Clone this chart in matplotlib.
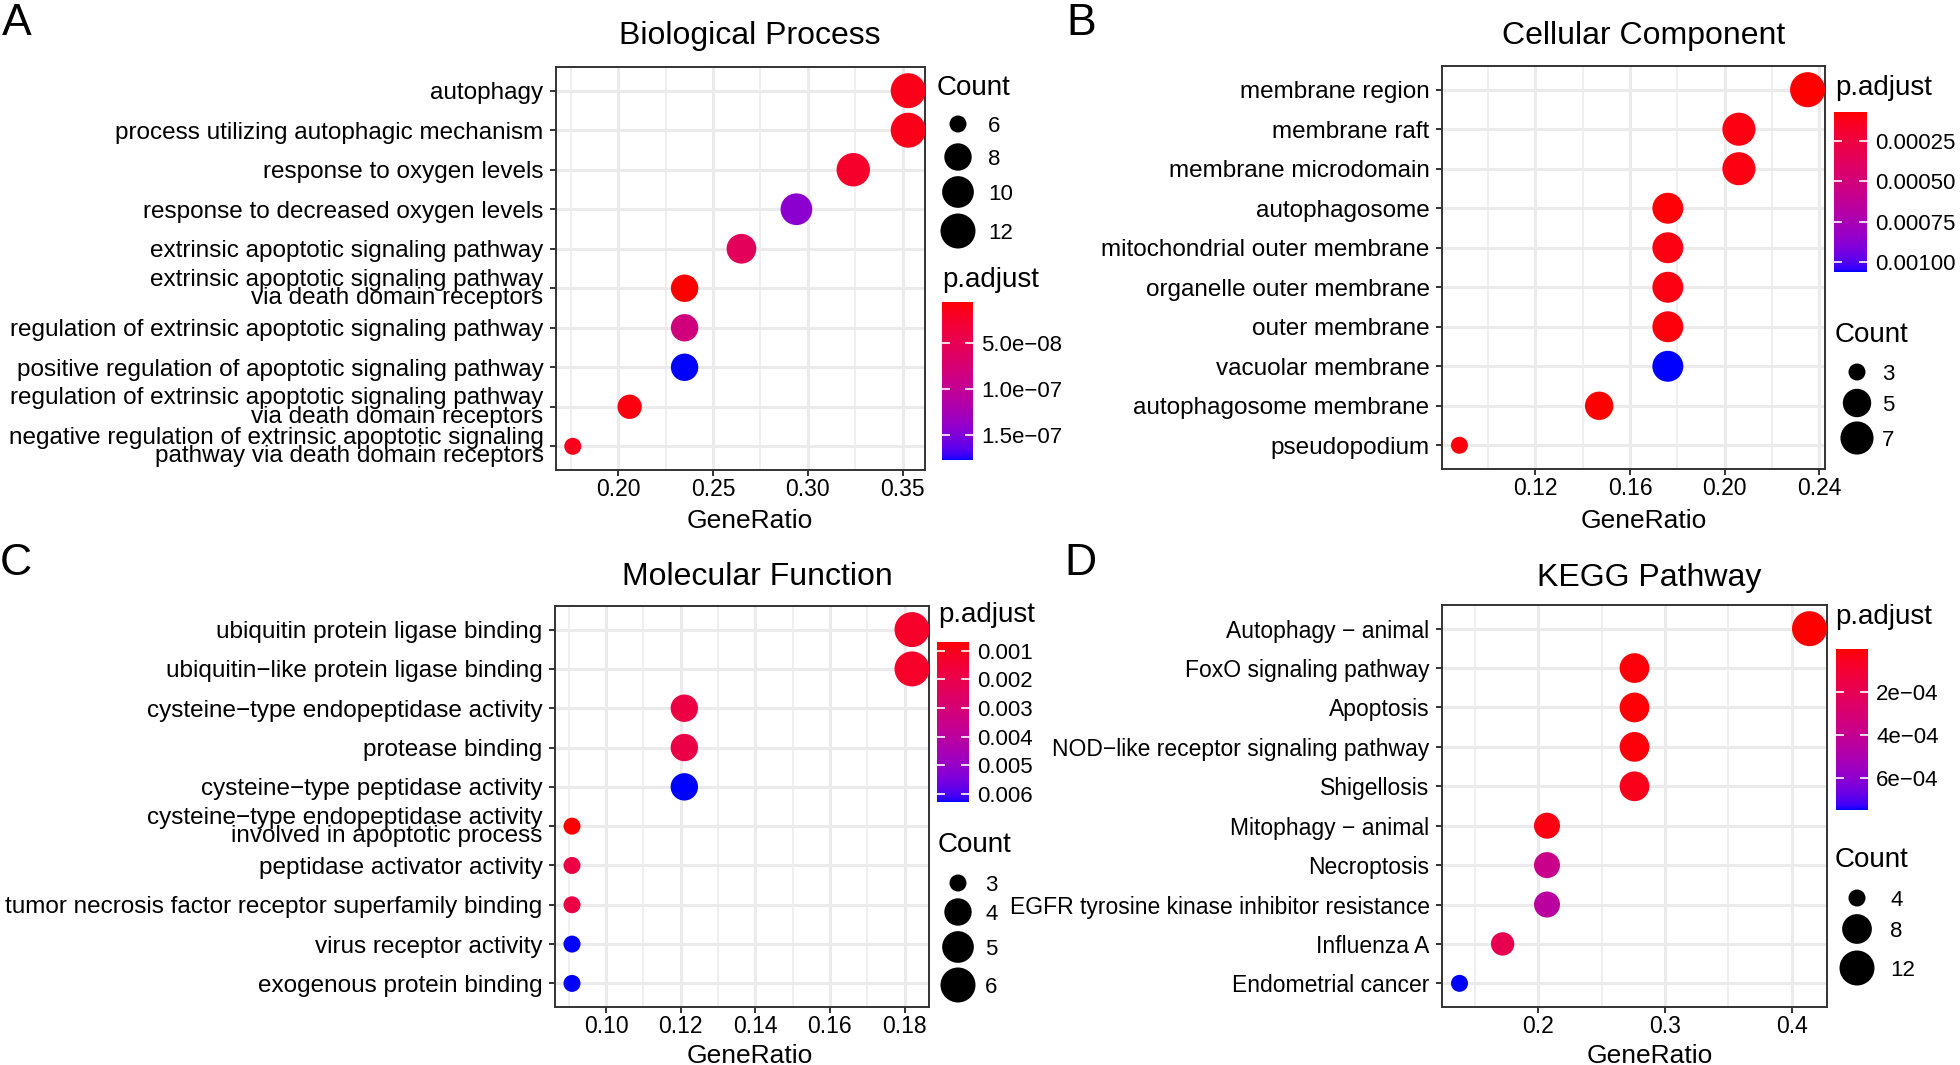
import numpy as np
import matplotlib
matplotlib.use("Agg")
import matplotlib.pyplot as plt
from matplotlib.colors import ListedColormap, Normalize
from matplotlib.cm import ScalarMappable
from matplotlib.ticker import MultipleLocator, AutoMinorLocator, FormatStrFormatter

plt.rcParams["font.family"] = ["Liberation Sans", "DejaVu Sans"]

# ---- data (top row of each list = top of the plot) ----
bp_terms = ["autophagy", "process utilizing autophagic mechanism", "response to oxygen levels",
            "response to decreased oxygen levels", "extrinsic apoptotic signaling pathway",
            "extrinsic apoptotic signaling pathway\nvia death domain receptors",
            "regulation of extrinsic apoptotic signaling pathway",
            "positive regulation of apoptotic signaling pathway",
            "regulation of extrinsic apoptotic signaling pathway\nvia death domain receptors",
            "negative regulation of extrinsic apoptotic signaling\npathway via death domain receptors"]
bp_ratio = [0.353, 0.353, 0.324, 0.294, 0.265, 0.235, 0.235, 0.235, 0.206, 0.176]
bp_count = [12, 12, 11, 10, 9, 8, 8, 8, 7, 6]
bp_padj = [1.4e-8, 1.4e-8, 2.3e-8, 1.43e-7, 5.7e-8, 5.4e-9, 8.3e-8, 1.77e-7, 1.0e-8, 1.6e-8]

cc_terms = ["membrane region", "membrane raft", "membrane microdomain", "autophagosome",
            "mitochondrial outer membrane", "organelle outer membrane", "outer membrane",
            "vacuolar membrane", "autophagosome membrane", "pseudopodium"]
cc_ratio = [0.235, 0.206, 0.206, 0.176, 0.176, 0.176, 0.176, 0.176, 0.147, 0.088]
cc_count = [8, 7, 7, 6, 6, 6, 6, 6, 5, 3]
cc_padj = [7e-5, 1.0e-4, 1.0e-4, 8e-5, 1.0e-4, 1.0e-4, 9e-5, 1.06e-3, 7.2e-5, 9e-5]

mf_terms = ["ubiquitin protein ligase binding", "ubiquitin\u2212like protein ligase binding",
            "cysteine\u2212type endopeptidase activity", "protease binding",
            "cysteine\u2212type peptidase activity",
            "cysteine\u2212type endopeptidase activity\ninvolved in apoptotic process",
            "peptidase activator activity", "tumor necrosis factor receptor superfamily binding",
            "virus receptor activity", "exogenous protein binding"]
mf_ratio = [0.182, 0.182, 0.121, 0.121, 0.121, 0.0909, 0.0909, 0.0909, 0.0909, 0.0909]
mf_count = [6, 6, 4, 4, 4, 3, 3, 3, 3, 3]
mf_padj = [1.25e-3, 1.25e-3, 1.8e-3, 1.9e-3, 6.28e-3, 6.9e-4, 1.8e-3, 1.8e-3, 6.28e-3, 6.28e-3]

kegg_terms = ["Autophagy \u2212 animal", "FoxO signaling pathway", "Apoptosis",
              "NOD\u2212like receptor signaling pathway", "Shigellosis", "Mitophagy \u2212 animal",
              "Necroptosis", "EGFR tyrosine kinase inhibitor resistance", "Influenza A",
              "Endometrial cancer"]
kegg_ratio = [0.414, 0.276, 0.276, 0.276, 0.276, 0.207, 0.207, 0.207, 0.172, 0.138]
kegg_count = [12, 8, 8, 8, 8, 6, 6, 6, 5, 4]
kegg_padj = [1e-6, 1.5e-5, 8e-6, 1.5e-5, 4e-5, 2.5e-5, 3.8e-4, 4.5e-4, 1.9e-4, 7.5e-4]

bp_cticks = [5e-8, 1e-7, 1.5e-7]
bp_clabels = ["5.0e\u221208", "1.0e\u221207", "1.5e\u221207"]
cc_cticks = [0.00025, 0.0005, 0.00075, 0.001]
cc_clabels = ["0.00025", "0.00050", "0.00075", "0.00100"]
mf_cticks = [0.001, 0.002, 0.003, 0.004, 0.005, 0.006]
mf_clabels = ["0.001", "0.002", "0.003", "0.004", "0.005", "0.006"]
kegg_cticks = [2e-4, 4e-4, 6e-4]
kegg_clabels = ["2e\u221204", "4e\u221204", "6e\u221204"]

bp_sizes = [6, 8, 10, 12]
cc_sizes = [3, 5, 7]
mf_sizes = [3, 4, 5, 6]
kegg_sizes = [4, 8, 12]


# ---- red -> blue gradient interpolated in CIELAB (like ggplot) ----
def to_lab(rgb):
    c = np.asarray(rgb, float)
    c = np.where(c <= 0.04045, c / 12.92, ((c + 0.055) / 1.055) ** 2.4)
    M = np.array([[0.4124, 0.3576, 0.1805], [0.2126, 0.7152, 0.0722], [0.0193, 0.1192, 0.9505]])
    xyz = M @ c / np.array([0.95047, 1.0, 1.08883])
    f = np.where(xyz > 0.008856, np.cbrt(xyz), 7.787 * xyz + 16 / 116)
    return np.array([116 * f[1] - 16, 500 * (f[0] - f[1]), 200 * (f[1] - f[2])])


def from_lab(lab):
    L, a, b = lab
    fy = (L + 16) / 116
    f = np.array([fy + a / 500, fy, fy - b / 200])
    xyz = np.where(f ** 3 > 0.008856, f ** 3, (f - 16 / 116) / 7.787) * np.array([0.95047, 1.0, 1.08883])
    Mi = np.array([[3.2406, -1.5372, -0.4986], [-0.9689, 1.8758, 0.0415], [0.0557, -0.2040, 1.0570]])
    c = Mi @ xyz
    c = np.where(c <= 0.0031308, 12.92 * c, 1.055 * np.clip(c, 0, None) ** (1 / 2.4) - 0.055)
    return np.clip(c, 0, 1)


lab_r, lab_b = to_lab([1, 0, 0]), to_lab([0, 0, 1])
cmap = ListedColormap([from_lab(lab_r + (lab_b - lab_r) * t) for t in np.linspace(0, 1, 256)])

W, H = 1960, 1065
fig = plt.figure(figsize=(19.6, 10.65), dpi=100)

ov = fig.add_axes([0, 0, 1, 1])
ov.set_xlim(0, W)
ov.set_ylim(H, 0)
ov.axis("off")


def box(l, t, r, b):
    return [l / W, 1 - b / H, (r - l) / W, (b - t) / H]


def dia(c, cmin, cmax):
    return 17 + 18 * np.sqrt((np.asarray(c, float) - cmin) / (cmax - cmin))


def size_legend(xt, yt, xd, ys, xl, vals, cmin, cmax):
    ov.text(xt, yt, "Count", fontsize=20, ha="left", va="center")
    ov.scatter([xd] * len(vals), ys, s=(dia(vals, cmin, cmax) * 0.72) ** 2, c="black", lw=0)
    for y, v in zip(ys, vals):
        ov.text(xl, y, str(v), fontsize=16, ha="left", va="center_baseline")


def color_legend(xt, yt, cbox, ticks, labels, vmin, vmax):
    ov.text(xt, yt, "p.adjust", fontsize=20, ha="left", va="center")
    cax = fig.add_axes(box(*cbox))
    cb = fig.colorbar(ScalarMappable(Normalize(vmin, vmax), cmap), cax=cax)
    cb.outline.set_visible(False)
    cax.invert_yaxis()
    cb.set_ticks(ticks)
    cb.set_ticklabels(labels)
    cax.tick_params(direction="in", color="white", length=6, width=1.2, left=True, right=True,
                    labelsize=16, pad=6)


def panel(letter, letter_xy, title, title_xy, xlab_xy, axbox, terms, ratio, count, padj,
          step, fmt, ysize=17.5):
    ax = fig.add_axes(box(*axbox))
    cmin, cmax = min(count), max(count)
    ax.scatter(ratio[::-1], terms[::-1], s=(dia(count[::-1], cmin, cmax) * 0.72) ** 2,
               c=padj[::-1], cmap=cmap, norm=Normalize(min(padj), max(padj)), lw=0, zorder=3)
    ax.set_ylim(-0.6, len(terms) - 0.4)
    ax.xaxis.set_major_locator(MultipleLocator(step))
    ax.xaxis.set_minor_locator(AutoMinorLocator(2))
    ax.xaxis.set_major_formatter(FormatStrFormatter(fmt))
    ax.grid(True, which="major", color="#EBEBEB", lw=2.2)
    ax.grid(True, which="minor", axis="x", color="#EBEBEB", lw=1.1)
    ax.set_axisbelow(True)
    ax.tick_params(which="minor", length=0)
    ax.tick_params(axis="both", which="major", length=4, width=1.4, color="#333333")
    ax.tick_params(axis="y", labelsize=ysize, pad=5)
    ax.tick_params(axis="x", labelsize=16.5, pad=1.5)
    for lbl in ax.get_yticklabels():
        lbl.set_linespacing(0.8)
    for sp in ax.spines.values():
        sp.set_color("#333333")
        sp.set_linewidth(1.4)
    ov.text(letter_xy[0], letter_xy[1], letter, fontsize=32, ha="left", va="baseline")
    ov.text(title_xy[0], title_xy[1], title, fontsize=23, ha="center", va="center")
    ov.text(xlab_xy[0], xlab_xy[1], "GeneRatio", fontsize=19, ha="center", va="baseline")
    return ax


panel("A", (2, 35), "Biological Process", (750, 36), (750, 528), (556, 67, 925, 470),
      bp_terms, bp_ratio, bp_count, bp_padj, 0.05, "%.2f")
size_legend(937, 88, 958, [124, 157, 192, 231], 988, bp_sizes, min(bp_count), max(bp_count))
color_legend(942, 280, (942, 302, 973, 460), bp_cticks, bp_clabels, min(bp_padj), max(bp_padj))

panel("B", (1066, 35), "Cellular Component", (1644, 36), (1644, 528), (1442, 66, 1825, 469),
      cc_terms, cc_ratio, cc_count, cc_padj, 0.04, "%.2f")
color_legend(1835, 88, (1834, 112, 1867, 272), cc_cticks, cc_clabels, min(cc_padj), max(cc_padj))
size_legend(1835, 335, 1857, [372, 403, 438], 1882, cc_sizes, min(cc_count), max(cc_count))

panel("C", (0, 575), "Molecular Function", (757, 577), (750, 1063), (555, 606, 929, 1007),
      mf_terms, mf_ratio, mf_count, mf_padj, 0.02, "%.2f")
color_legend(938, 615, (937, 642, 969, 802), mf_cticks, mf_clabels, min(mf_padj), max(mf_padj))
size_legend(938, 845, 958, [883, 912, 947, 985], 985, mf_sizes, min(mf_count), max(mf_count))

panel("D", (1064, 575), "KEGG Pathway", (1649, 578), (1650, 1063), (1442, 605, 1827, 1007),
      kegg_terms, kegg_ratio, kegg_count, kegg_padj, 0.1, "%.1f", ysize=16.5)
color_legend(1835, 617, (1836, 649, 1868, 810), kegg_cticks, kegg_clabels,
             min(kegg_padj), max(kegg_padj))
size_legend(1835, 860, 1857, [898, 929, 968], 1890, kegg_sizes, min(kegg_count), max(kegg_count))

fig.savefig("out.png", dpi=100)
